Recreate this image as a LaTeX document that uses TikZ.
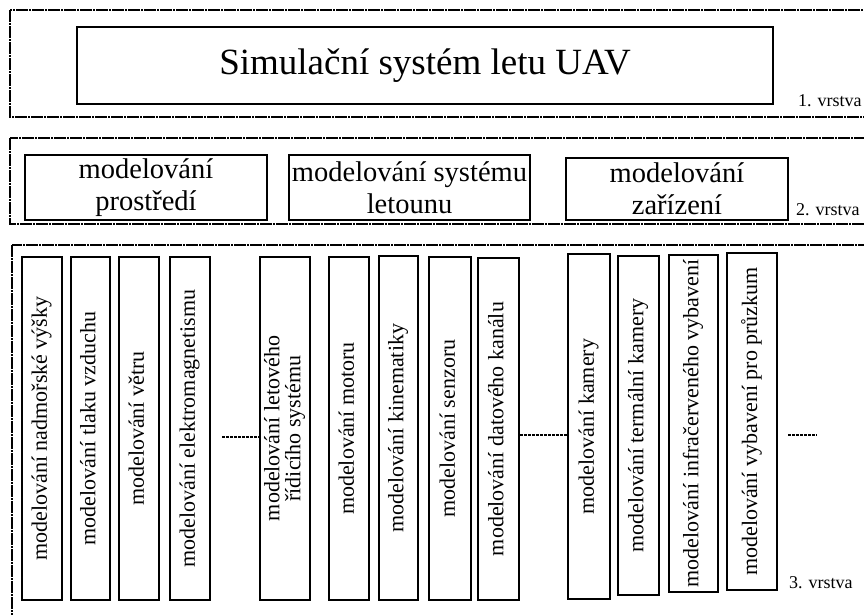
\documentclass[tikz,border=0pt]{standalone}
\usepackage{fontspec}
\setmainfont{Liberation Serif}
\usepackage{graphicx}
% vertical caption for the tall column boxes
\newcommand\vt[1]{\rotatebox{90}{\begin{tabular}{@{}c@{}}#1\end{tabular}}}
\begin{document}
\begin{tikzpicture}[x=1pt,y=-1pt,
  layer/.style={draw, line width=1.5pt, dash pattern=on 12pt off 1pt on 2pt off 1pt},
  box/.style={draw, line width=1.8pt, inner sep=0pt, align=center},
  col/.style={box, font=\fontsize{22}{19}\selectfont},
  link/.style={line width=2.2pt, dash pattern=on 3pt off 1pt},
  tag/.style={font=\fontsize{18}{20}\selectfont, inner sep=0pt, anchor=base west}]
\useasboundingbox (0,0) rectangle (864,614);
\clip (0,0) rectangle (864,614);

% layer frames
\draw[layer] (10,10) rectangle (880,117);
\draw[layer] (10,138) rectangle (880,224);
\draw[layer] (12,245) rectangle (880,630);

% layer 1
\node[box, minimum width=696, minimum height=77, font=\fontsize{37}{40}\selectfont]
  (title) at (425,65.5) {Simulační systém letu UAV};
\node[tag] (t1) at (798,106) {1. vrstva};

% layer 2
\node[box, minimum width=242, minimum height=65, font=\fontsize{28.5}{32}\selectfont]
  (env) at (146,187.5) {modelování\\prostředí};
\node[box, minimum width=241, minimum height=65, font=\fontsize{28.5}{32}\selectfont]
  (sys) at (409.5,187.5) {modelování systému\\letounu};
\node[box, minimum width=222, minimum height=62, font=\fontsize{28.5}{32}\selectfont]
  (dev) at (677,189) {modelování\\zařízení};
\node[tag] (t2) at (796,215) {2. vrstva};

% layer 3 columns
\node[col, minimum width=40, minimum height=343] (c1) at (42,428.5) {\vt{modelování nadmořské výšky}};
\node[col, minimum width=39, minimum height=343] (c2) at (90.5,428.5) {\vt{modelování tlaku vzduchu}};
\node[col, minimum width=40, minimum height=343] (c3) at (139,428.5) {\vt{modelování větru}};
\node[col, minimum width=40, minimum height=343] (c4) at (190,428.5) {\vt{modelování elektromagnetismu}};
\node[col, minimum width=50, minimum height=343] (c5) at (285,428.5) {\vt{modelování letového\\řídicího systému}};
\node[col, minimum width=40, minimum height=343] (c6) at (349,428.5) {\vt{modelování motoru}};
\node[col, minimum width=39, minimum height=344] (c7) at (398.5,428) {\vt{modelování kinematiky}};
\node[col, minimum width=42, minimum height=343] (c8) at (450,428.5) {\vt{modelování senzoru}};
\node[col, minimum width=41, minimum height=342] (c9) at (498.5,429) {\vt{modelování datového kanálu}};
\node[col, minimum width=42, minimum height=345] (c10) at (589,426.5) {\vt{modelování kamery}};
\node[col, minimum width=41, minimum height=339] (c11) at (638.5,425.5) {\vt{modelování termální kamery}};
\node[col, minimum width=49, minimum height=337] (c12) at (693.5,423.5) {\vt{modelování infračerveného vybavení}};
\node[col, minimum width=50, minimum height=337] (c13) at (752,421.5) {\vt{modelování vybavení pro průzkum}};
\node[tag] (t3) at (789,588) {3. vrstva};

% dotted continuation marks
\coordinate (d1) at (222,437);
\draw[link] (d1) -- (d1 -| c5.west);
\coordinate (d2) at (540,435);
\draw[link] (c9.east |- d2) -- (c10.west |- d2);
\coordinate (d3a) at (788,435);
\coordinate (d3b) at (817,435);
\draw[link] (d3a) -- (d3b);
\end{tikzpicture}
\end{document}
